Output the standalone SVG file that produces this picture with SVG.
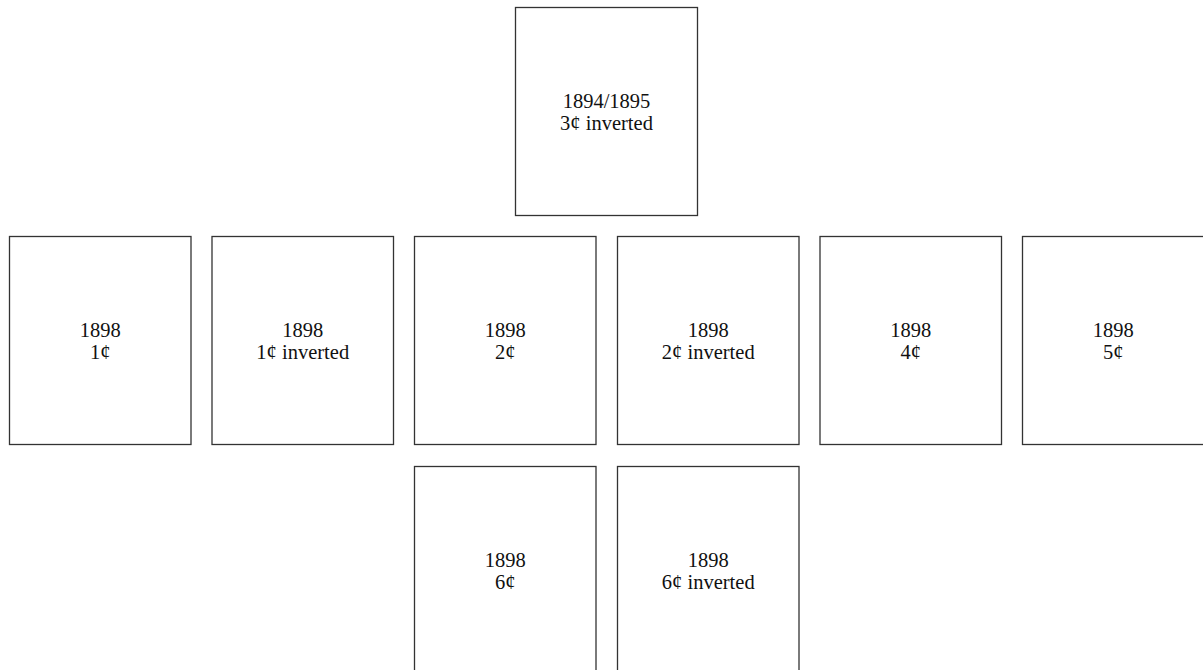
<svg xmlns="http://www.w3.org/2000/svg" width="1203" height="670" viewBox="0 0 1203 670">
<style>
.box{fill:#fff;stroke:#333;stroke-width:1.3}
.t{font-family:"Liberation Serif","Times New Roman",serif;font-size:20.5px;fill:#111;text-anchor:middle}
</style>
<rect width="1203" height="670" fill="#fff"/>
<g id="connectors"></g>
<g id="n0"><rect class="box" x="515.5" y="7.5" width="182" height="208"/><text class="t" x="606.5" y="107.5">1894/1895</text><text class="t" x="606.5" y="130">3¢ inverted</text></g>
<g id="n1"><rect class="box" x="9.5" y="236.5" width="181.5" height="208"/><text class="t" x="100.25" y="336.7">1898</text><text class="t" x="100.25" y="359">1¢</text></g>
<g id="n2"><rect class="box" x="212" y="236.5" width="181.5" height="208"/><text class="t" x="302.75" y="336.7">1898</text><text class="t" x="302.75" y="359">1¢ inverted</text></g>
<g id="n3"><rect class="box" x="414.5" y="236.5" width="181.5" height="208"/><text class="t" x="505.25" y="336.7">1898</text><text class="t" x="505.25" y="359">2¢</text></g>
<g id="n4"><rect class="box" x="617.5" y="236.5" width="181.5" height="208"/><text class="t" x="708.25" y="336.7">1898</text><text class="t" x="708.25" y="359">2¢ inverted</text></g>
<g id="n5"><rect class="box" x="820" y="236.5" width="181.5" height="208"/><text class="t" x="910.75" y="336.7">1898</text><text class="t" x="910.75" y="359">4¢</text></g>
<g id="n6"><rect class="box" x="1022.5" y="236.5" width="181.5" height="208"/><text class="t" x="1113.25" y="336.7">1898</text><text class="t" x="1113.25" y="359">5¢</text></g>
<g id="n7"><rect class="box" x="414.5" y="466.5" width="181.5" height="208"/><text class="t" x="505.25" y="566.7">1898</text><text class="t" x="505.25" y="589">6¢</text></g>
<g id="n8"><rect class="box" x="617.5" y="466.5" width="181.5" height="208"/><text class="t" x="708.25" y="566.7">1898</text><text class="t" x="708.25" y="589">6¢ inverted</text></g>
</svg>
